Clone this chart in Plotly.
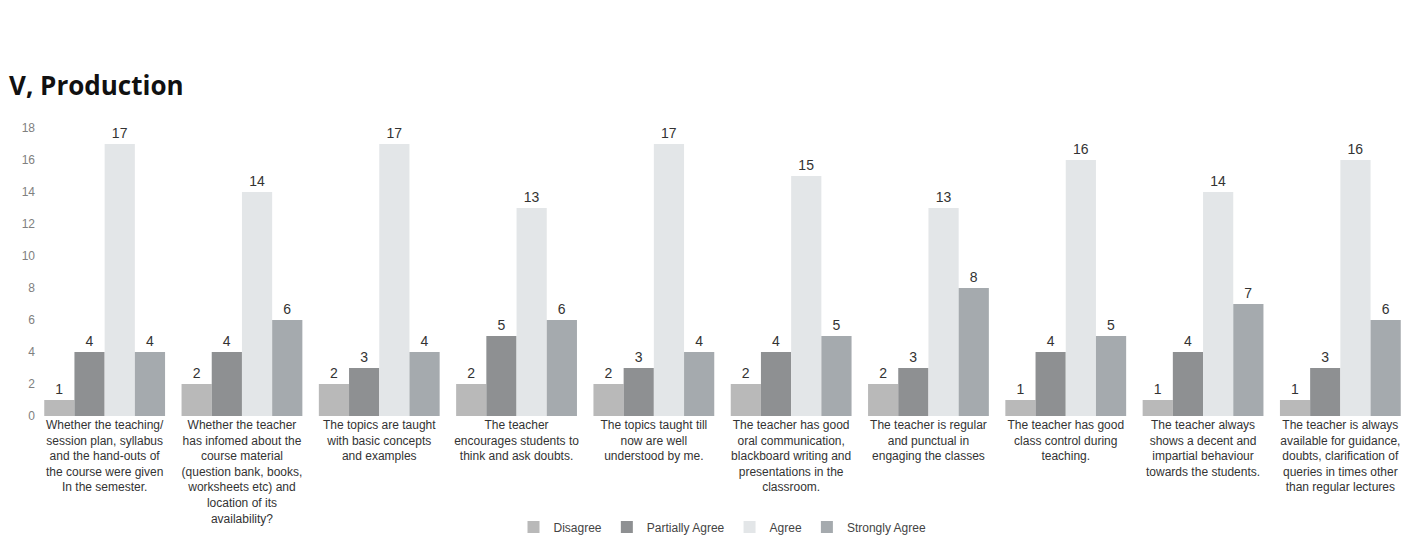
import plotly.graph_objects as go

categories = [
    "Whether the teaching/<br>session plan, syllabus<br>and the hand-outs of<br>the course were given<br>In the semester.",
    "Whether the teacher<br>has infomed about the<br>course material<br>(question bank, books,<br>worksheets etc) and<br>location of its<br>availability?",
    "The topics are taught<br>with basic concepts<br>and examples",
    "The teacher<br>encourages students to<br>think and ask doubts.",
    "The topics taught till<br>now are well<br>understood by me.",
    "The teacher has good<br>oral communication,<br>blackboard writing and<br>presentations in the<br>classroom.",
    "The teacher is regular<br>and punctual in<br>engaging the classes",
    "The teacher has good<br>class control during<br>teaching.",
    "The teacher always<br>shows a decent and<br>impartial behaviour<br>towards the students.",
    "The teacher is always<br>available for guidance,<br>doubts, clarification of<br>queries in times other<br>than regular lectures",
]

disagree = [1, 2, 2, 2, 2, 2, 2, 1, 1, 1]
partially_agree = [4, 4, 3, 5, 3, 4, 3, 4, 4, 3]
agree = [17, 14, 17, 13, 17, 15, 13, 16, 14, 16]
strongly_agree = [4, 6, 4, 6, 4, 5, 8, 5, 7, 6]

y_ticks = [0, 2, 4, 6, 8, 10, 12, 14, 16, 18]

series = [
    ("Disagree", disagree, "#b9b9b9"),
    ("Partially Agree", partially_agree, "#8e9092"),
    ("Agree", agree, "#e3e6e8"),
    ("Strongly Agree", strongly_agree, "#a5aaae"),
]

fig = go.Figure()
for name, vals, color in series:
    fig.add_trace(go.Bar(
        name=name,
        x=categories,
        y=vals,
        marker=dict(color=color, line=dict(width=0)),
        text=vals,
        textposition="outside",
        textfont=dict(family="Liberation Sans, Arial", size=14, color="#333333"),
        cliponaxis=False,
    ))

fig.update_layout(
    width=1423,
    height=545,
    barmode="group",
    bargap=0.12,
    bargroupgap=0,
    plot_bgcolor="white",
    paper_bgcolor="white",
    margin=dict(l=28, r=22, t=120, b=130),
    font=dict(family="Liberation Sans, Arial", size=12, color="#333333"),
    showlegend=True,
    legend=dict(
        orientation="h",
        x=0.5, xanchor="center",
        y=-0.335, yanchor="top",
        font=dict(size=12, color="#444444"),
        itemwidth=30,
        tracegroupgap=0,
    ),
)
fig.add_annotation(
    text="<b>V, Production</b>",
    xref="paper", yref="paper",
    x=-0.021, xanchor="left",
    y=1.15, yanchor="middle",
    showarrow=False,
    font=dict(family="Open Sans, Lato", size=26, color="#111111"),
)

fig.update_xaxes(
    tickfont=dict(size=12, color="#333333"),
    tickangle=0,
    showline=False,
    showgrid=False,
    ticks="",
)
fig.update_yaxes(
    range=[0, 18],
    tickvals=y_ticks,
    tickfont=dict(size=12, color="#808080"),
    showgrid=False,
    zeroline=False,
    showline=False,
    ticks="",
)

fig.write_html("out.html")
